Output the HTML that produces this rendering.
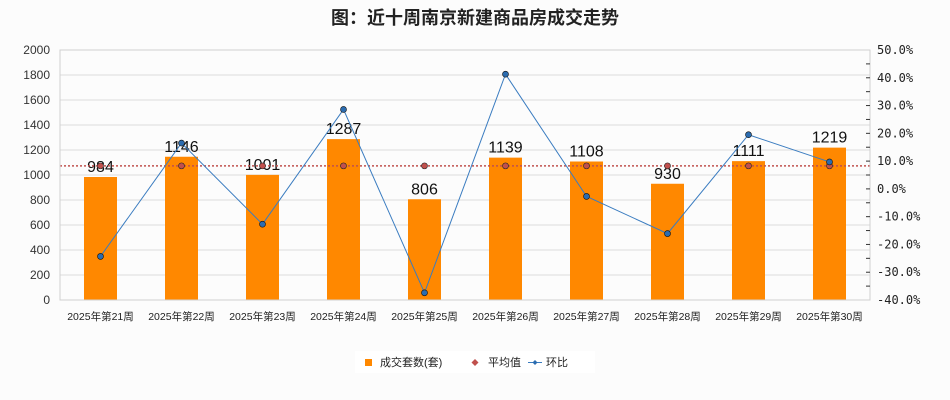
<!DOCTYPE html>
<html><head><meta charset="utf-8"><style>
body{margin:0;background:#fcfcfc;font-family:"Liberation Sans","Noto Sans CJK SC",sans-serif;}
svg{display:block}
</style></head><body>
<svg id="c" width="950" height="400">
<text x="475" y="24" text-anchor="middle" font-size="18" font-weight="bold" fill="#222" font-family="Liberation Sans, Noto Sans CJK SC, sans-serif">图：近十周南京新建商品房成交走势</text>
<g id="grid"></g><g id="bars"></g><g id="lines"></g><g id="axes"></g>
<g>
<rect x="355" y="351" width="240" height="22" fill="#fff"/>
<rect x="365" y="359" width="7" height="7" fill="#ff8800"/>
<text x="380" y="366" font-size="11" fill="#222">成交套数(套)</text>
<path d="M475 359 L478.5 362.5 L475 366 L471.5 362.5Z" fill="#c0504d"/>
<text x="488" y="366" font-size="11" fill="#222">平均值</text>
<line x1="528" y1="362.5" x2="542" y2="362.5" stroke="#3a7cc0"/>
<path d="M535 360 L537.5 362.5 L535 365 L532.5 362.5Z" fill="#2b6cb0"/>
<text x="546" y="366" font-size="11" fill="#222">环比</text>
</g>
</svg>
<script>
const categories=["2025年第21周","2025年第22周","2025年第23周","2025年第24周","2025年第25周","2025年第26周","2025年第27周","2025年第28周","2025年第29周","2025年第30周"];
const sales=[984,1146,1001,1287,806,1139,1108,930,1111,1219];
const ratio=[-24.3,16.5,-12.7,28.6,-37.4,41.3,-2.7,-16.1,19.5,9.7];
const leftTicks=[0,200,400,600,800,1000,1200,1400,1600,1800,2000];
const rightTicks=[-40,-30,-20,-10,0,10,20,30,40,50];
const NS="http://www.w3.org/2000/svg";
const L=60,R=870,T=50,B=300;
const bw=(R-L)/categories.length;
const xC=i=>L+bw*(i+0.5);
const yL=v=>B-(v-0)/(2000-0)*(B-T);
const yR=v=>B-(v+40)/(90)*(B-T);
function mk(p,tag,a){const e=document.createElementNS(NS,tag);for(const k in a)e.setAttribute(k,a[k]);document.getElementById(p).appendChild(e);return e;}
leftTicks.forEach(t=>{
 const g=mk('grid','line',{x1:L,x2:R,y1:yL(t),y2:yL(t),stroke:'#dcdcdc'});
 
 
 const tx=mk('axes','text',{x:L-10,y:yL(t)+4,'text-anchor':'end','font-size':12,fill:'#333'});
 tx.textContent=t;
 
 
});
const fr=mk('axes','rect',{x:L,y:T,width:R-L,height:B-T,fill:'none',stroke:'#d0d0d0'});


for(let v=-35;v<=45;v+=5){
 const m=mk('axes','line',{x1:R-4,x2:R,y1:yR(v),y2:yR(v),stroke:'#333'});
 
 
}
rightTicks.forEach(t=>{
 const tx=mk('axes','text',{x:R+7,y:yR(t)+4,'font-size':12,fill:'#222','font-family':'DejaVu Sans Mono, monospace'});
 tx.textContent=t.toFixed(1)+'%';
 
 
});
categories.forEach((c,i)=>{
 const tx=mk('axes','text',{x:xC(i),y:320,'text-anchor':'middle','font-size':10.5,fill:'#222'});
 tx.textContent=c;
 
 
 const b=mk('bars','rect',{x:xC(i)-16.5,y:yL(sales[i]),width:33,height:B-yL(sales[i]),fill:'#ff8800'});
 
 
 const lb=mk('lines','text',{x:xC(i),y:yL(sales[i])-5,'text-anchor':'middle','font-size':16,fill:'#111'});
 lb.textContent=sales[i];
 
 
});
const avg=sales.reduce((a,b)=>a+b,0)/sales.length;
const al=mk('lines','line',{x1:L,x2:R,y1:yL(avg),y2:yL(avg),stroke:'#c0504d','stroke-dasharray':'2,2','stroke-width':1.5});


categories.forEach((c,i)=>{
 const p=mk('lines','circle',{cx:xC(i),cy:yL(avg),r:3,fill:'#c0504d',stroke:'#222','stroke-width':0.6});
 
 
});
const pl=mk('lines','polyline',{points:ratio.map((v,i)=>xC(i)+','+yR(v)).join(' '),fill:'none',stroke:'#3a7cc0','stroke-width':1});


ratio.forEach((v,i)=>{
 const p=mk('lines','circle',{cx:xC(i),cy:yR(v),r:3,fill:'#2b6cb0',stroke:'#111','stroke-width':0.6});
 
 
});
</script>
</body></html>
